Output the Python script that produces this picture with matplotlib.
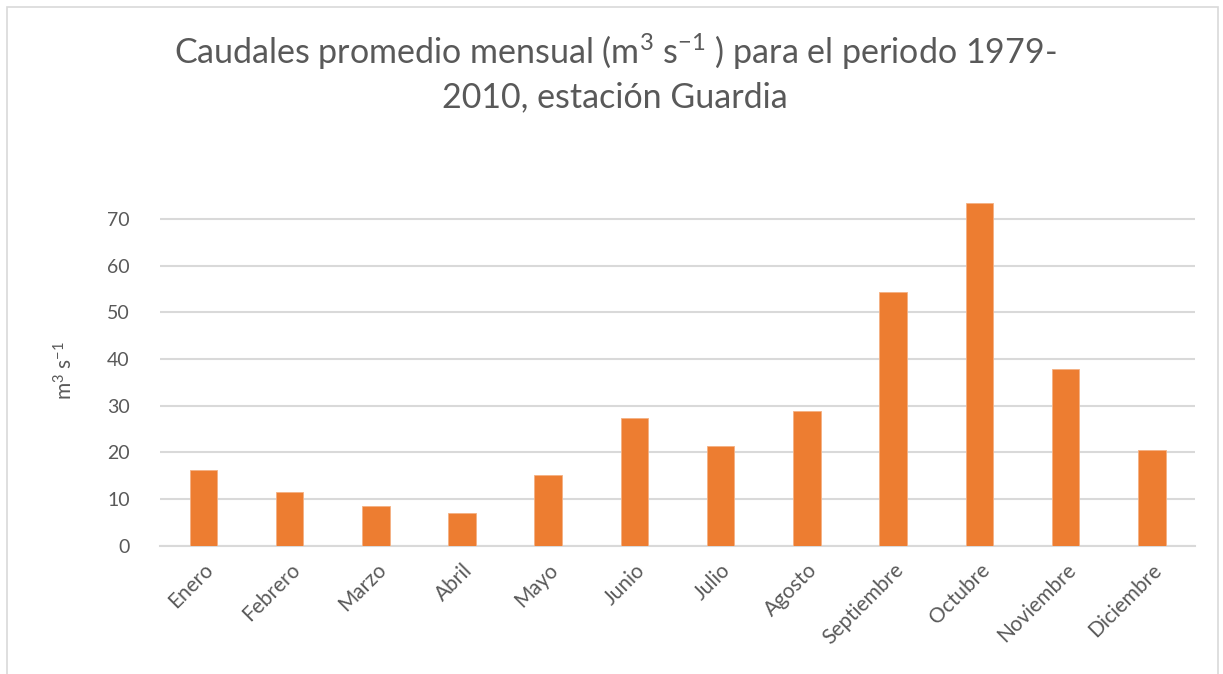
import numpy as np
import matplotlib.pyplot as plt
from matplotlib.patches import Rectangle

# Datos
meses = ["Enero", "Febrero", "Marzo", "Abril", "Mayo", "Junio", "Julio",
         "Agosto", "Septiembre", "Octubre", "Noviembre", "Diciembre"]
caudal = [16.2, 11.5, 8.5, 7.1, 15.1, 27.3, 21.3, 28.8, 54.3, 73.4, 37.8, 20.6]
yticks = [0, 10, 20, 30, 40, 50, 60, 70]

plt.rcParams['font.family'] = ['Lato', 'DejaVu Sans']
plt.rcParams['mathtext.fontset'] = 'custom'
plt.rcParams['mathtext.rm'] = 'Lato'
plt.rcParams['mathtext.it'] = 'Lato'

gris = '#595959'
fig = plt.figure(figsize=(12.23, 6.74), dpi=100)
fig.patches.append(Rectangle((0.006, -0.01), 0.99, 1.0, transform=fig.transFigure,
                             fill=False, edgecolor='#d9d9d9', linewidth=1.2))
ax = fig.add_axes([0.131, 0.19, 0.846, 0.52])

x = np.arange(len(meses))
ax.bar(x, caudal, width=0.32, color='#ed7d31', edgecolor='#f4b183', linewidth=0.6, zorder=3)

ax.set_xlim(-0.5, len(meses) - 0.5)
ax.set_ylim(0, 75)
ax.set_yticks(yticks)
ax.yaxis.grid(True, color='#d9d9d9', linewidth=1.5, zorder=0)
for s in ['top', 'right', 'left']:
    ax.spines[s].set_visible(False)
ax.spines['bottom'].set_color('#d9d9d9')
ax.spines['bottom'].set_linewidth(1.5)
ax.tick_params(axis='both', length=0, colors=gris, labelsize=14)
ax.tick_params(axis='y', pad=22)
ax.tick_params(axis='x', pad=10, labelsize=15)
ax.set_xticks(x)
ax.set_xticklabels(meses, rotation=45, ha='right', rotation_mode='anchor')

ax.set_ylabel(r'm$^{\mathrm{3}}$ s$^{\mathrm{-1}}$', color=gris, fontsize=15, labelpad=22)

fig.text(0.503, 0.923, r'Caudales promedio mensual (m$^{\mathrm{3}}$ s$^{\mathrm{-1}}$ ) para el periodo 1979-',
         ha='center', va='center', fontsize=24.5, color=gris)
fig.text(0.503, 0.856, '2010, estación Guardia', ha='center', va='center', fontsize=24.5, color=gris)

fig.savefig('out.png', dpi=100)
